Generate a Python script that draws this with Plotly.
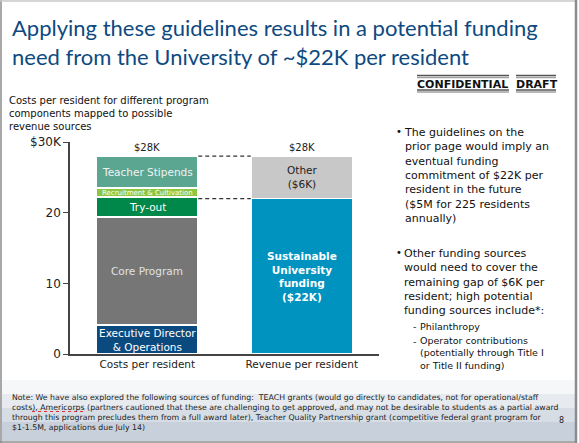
import plotly.graph_objects as go

W, H = 579, 443
ML, MR, MT, MB = 70, 200, 142, 89

categories = ["Costs per resident", "Revenue per resident"]

cost_names = ["Executive Director<br>& Operations", "Core Program", "Try-out",
              "Recruitment & Cultivation", "Teacher Stipends"]
cost_values = [4.1, 15.3, 2.8, 1.3, 4.5]
cost_colors = ["#0B4A7E", "#767676", "#00874A", "#8DC63F", "#5BA690"]
cost_text_colors = ["#FFFFFF", "#E2E2E2", "#FFFFFF", "#FFFFFF", "#F2F2F2"]
cost_text_sizes = [10.5, 10.5, 10.5, 7, 10.5]

rev_names = ["<b>Sustainable<br>University<br>funding<br>($22K)</b>", "Other<br>($6K)"]
rev_values = [22, 6]
rev_colors = ["#0093BF", "#C8C8C8"]
rev_text_colors = ["#FFFFFF", "#222222"]

total_labels = ["$28K", "$28K"]
tick_vals = [0, 10, 20, 30]
tick_text = ["0", "10", "20", "$30K"]

BAR_W = 0.66
FONT = "DejaVu Sans"

# pixel -> paper helpers for the slide decorations
pw = W - ML - MR
ph = H - MT - MB


def px(x):
    return (x - ML) / pw


def py(y):
    return (H - MB - y) / ph


fig = go.Figure()
annos = []

base = 0
for name, v, c, tc, ts in zip(cost_names, cost_values, cost_colors, cost_text_colors, cost_text_sizes):
    fig.add_trace(go.Bar(x=[categories[0]], y=[v], marker_color=c, width=BAR_W,
                         marker_line=dict(color="white", width=1.5), hoverinfo="skip"))
    annos.append(dict(x=categories[0], y=base + v / 2, text=name, showarrow=False,
                      font=dict(family=FONT, size=ts, color=tc)))
    base += v

base = 0
for name, v, c, tc in zip(rev_names, rev_values, rev_colors, rev_text_colors):
    fig.add_trace(go.Bar(x=[categories[1]], y=[v], marker_color=c, width=BAR_W,
                         marker_line=dict(color="white", width=1.5), hoverinfo="skip"))
    annos.append(dict(x=categories[1], y=base + v / 2, text=name, showarrow=False,
                      font=dict(family=FONT, size=10.5, color=tc)))
    base += v

totals = [sum(cost_values), sum(rev_values)]
for cat, t, lab in zip(categories, totals, total_labels):
    annos.append(dict(x=cat, y=t, text=lab, showarrow=False, yanchor="bottom", yshift=1,
                      font=dict(family=FONT, size=10, color="#222222")))

shapes = []
# dashed connectors between the bars
for yv in [totals[0], rev_values[0]]:
    shapes.append(dict(type="line", xref="x", yref="y", x0=BAR_W / 2, x1=1 - BAR_W / 2,
                       y0=yv, y1=yv, line=dict(color="#333333", width=1.2, dash="4px,3px")))

# faint skyline band at the bottom of the slide
for i, op in enumerate([0.12, 0.2, 0.28, 0.36]):
    shapes.append(dict(type="rect", xref="paper", yref="paper", x0=px(2), x1=px(575),
                       y0=py(441), y1=py(380 + i * 14), line_width=0,
                       fillcolor="rgba(175,188,202,%s)" % op, layer="below"))

# slide border
shapes.append(dict(type="line", xref="paper", yref="paper", x0=px(1), x1=px(1), y0=py(0), y1=py(443),
                   line=dict(color="#A8A8A8", width=2)))
shapes.append(dict(type="line", xref="paper", yref="paper", x0=px(0), x1=px(576), y0=py(1), y1=py(1),
                   line=dict(color="#C8C8C8", width=1.5)))
shapes.append(dict(type="line", xref="paper", yref="paper", x0=px(576), x1=px(576), y0=py(0), y1=py(443),
                   line=dict(color="#8C8C8C", width=2.5)))
shapes.append(dict(type="line", xref="paper", yref="paper", x0=px(0), x1=px(576), y0=py(442), y1=py(442),
                   line=dict(color="#8C8C8C", width=1.5)))

# CONFIDENTIAL / DRAFT bars
for x0, x1 in [(417, 509), (516, 556)]:
    for yy, col in [(75.5, "#555555"), (77.5, "#A0A0A0"), (90, "#555555"), (92, "#A0A0A0")]:
        shapes.append(dict(type="line", xref="paper", yref="paper", x0=px(x0), x1=px(x1),
                           y0=py(yy), y1=py(yy), line=dict(color=col, width=1.6)))

# spell-check squiggle under "Americorps"
shapes.append(dict(type="line", xref="paper", yref="paper", x0=px(32), x1=px(86), y0=py(411.5), y1=py(411.5),
                   line=dict(color="#E03030", width=1, dash="dot")))


def text(x, y, s, size, color="#111111", xanchor="left", yanchor="middle", family=FONT):
    annos.append(dict(xref="paper", yref="paper", x=px(x), y=py(y), text=s, showarrow=False,
                      xanchor=xanchor, yanchor=yanchor, align="left",
                      font=dict(family=family, size=size, color=color)))


title_lines = ["Applying these guidelines results in a potential funding",
               "need from the University of ~$22K per resident"]
text(10, 12, "<br>".join(title_lines), 22, color="#0E4A80", yanchor="top", family="Lato")

text(415, 84.5, "<b>CONFIDENTIAL</b>", 11, color="#111111")
text(514, 84.5, "<b>DRAFT</b>", 11, color="#111111")

subtitle = ["Costs per resident for different program", "components mapped to possible", "revenue sources"]
text(7, 113.5, "<br>".join(subtitle), 10, color="#111111")

bullet1 = ["The guidelines on the", "prior page would imply an", "eventual funding",
           "commitment of $22K per", "resident in the future", "($5M for 225 residents", "annually)"]
bullet2 = ["Other funding sources", "would need to cover the", "remaining gap of $6K per",
           "resident; high potential", "funding sources include*:"]
sub_items = [["Philanthropy"], ["Operator contributions", "(potentially through Title I", "or Title II funding)"]]

text(394, 131, "•", 10)
text(402, 175.2, "<br>".join(bullet1), 11)
text(394, 252.7, "•", 10)
text(402, 282, "<br>".join(bullet2), 11)
text(411, 326.7, "-", 9.5)
text(418, 326.7, sub_items[0][0], 9.5)
text(411, 341, "-", 9.5)
text(418, 353.4, "<br>".join(sub_items[1]), 9.5)

note_lines = [
    "Note: We have also explored the following sources of funding:  TEACH grants (would go directly to candidates, not for operational/staff",
    "costs), Americorps (partners cautioned that these are challenging to get approved, and may not be desirable to students as a partial award",
    "through this program precludes them from a full award later), Teacher Quality Partnership grant (competitive federal grant program for",
    "$1-1.5M, applications due July 14)",
]
for i, ln in enumerate(note_lines):
    text(10, 397 + i * 10, ln, 7.8, color="#222222")
text(566, 420, "8", 8, color="#222222", xanchor="right")

fig.update_layout(
    width=W, height=H, margin=dict(l=ML, r=MR, t=MT, b=MB),
    barmode="stack", bargap=0.34, showlegend=False,
    plot_bgcolor="white", paper_bgcolor="white",
    annotations=annos, shapes=shapes,
    xaxis=dict(type="category", categoryorder="array", categoryarray=categories, range=[-0.5, 1.5],
               showline=True, linecolor="#444444", linewidth=1.5, ticks="", showgrid=False,
               tickfont=dict(family=FONT, size=10.5, color="#222222")),
    yaxis=dict(range=[0, 30], tickvals=tick_vals, ticktext=tick_text, showline=True,
               linecolor="#444444", linewidth=1.5, ticks="outside", ticklen=5, tickcolor="#444444",
               showgrid=False, zeroline=False, tickfont=dict(family=FONT, size=12, color="#222222")),
)

fig.write_html("out.html", config={"displayModeBar": False},
               post_script="document.body.style.margin='0px';")
